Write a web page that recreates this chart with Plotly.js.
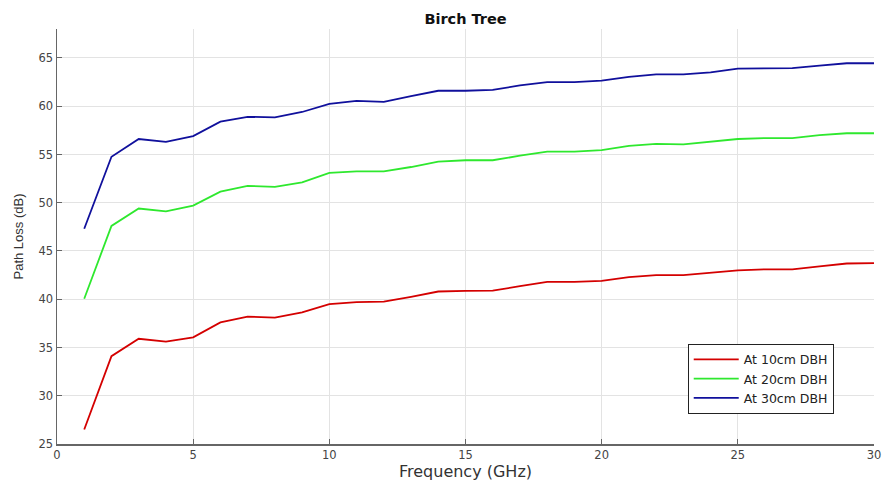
<!DOCTYPE html>
<html>
<head>
<meta charset="utf-8">
<script src="https://cdn.plot.ly/plotly-3.0.1.min.js"></script>
<style>html,body{margin:0;padding:0;background:#fff;}#chart{width:885px;height:483px;}</style>
</head>
<body>
<div id="chart"></div>
<script>
var frequency = [1,2,3,4,5,6,7,8,9,10,11,12,13,14,15,16,17,18,19,20,21,22,23,24,25,26,27,28,29,30];
var loss10 = [26.5,34.1,35.9,35.6,36.05,37.6,38.2,38.1,38.65,39.5,39.7,39.75,40.25,40.8,40.87,40.9,41.35,41.8,41.8,41.9,42.3,42.5,42.5,42.75,43.0,43.1,43.1,43.4,43.7,43.75];
var loss20 = [40.05,47.6,49.4,49.1,49.7,51.15,51.75,51.65,52.1,53.1,53.25,53.25,53.7,54.25,54.4,54.4,54.87,55.3,55.3,55.45,55.9,56.1,56.05,56.3,56.6,56.7,56.7,57.0,57.2,57.2];
var loss30 = [47.3,54.76,56.6,56.3,56.9,58.4,58.9,58.85,59.4,60.25,60.55,60.45,61.05,61.6,61.6,61.7,62.15,62.5,62.5,62.65,63.05,63.3,63.3,63.5,63.9,63.95,63.95,64.2,64.45,64.45];
var seriesNames = ["At 10cm DBH","At 20cm DBH","At 30cm DBH"];
var xTicks = [0,5,10,15,20,25,30];
var yTicks = [25,30,35,40,45,50,55,60,65];

var colors = ["#d40000","#2ee82e","#10109c"];
var data = [loss10, loss20, loss30].map(function(ys, i){
  return {x: frequency, y: ys, type: "scatter", mode: "lines", name: seriesNames[i],
          line: {color: colors[i], width: 1.8}};
});

var wide = "DejaVu Sans, Verdana, sans-serif";
var narrow = "Liberation Sans, Arial, Helvetica, sans-serif";
var layout = {
  width: 885, height: 483,
  margin: {l: 57, r: 11, t: 29, b: 39},
  paper_bgcolor: "#fff", plot_bgcolor: "#fff",
  font: {family: wide, size: 12, color: "#444"},
  title: {text: "<b>Birch Tree</b>", font: {family: wide, size: 14.5, color: "#111"},
          xref: "container", x: 0.526, xanchor: "center", yref: "container", y: 0.961, yanchor: "middle"},
  xaxis: {
    range: [0, 30], tickvals: xTicks, ticktext: xTicks.map(String),
    showgrid: true, gridcolor: "#e3e3e3", gridwidth: 1,
    zeroline: false, showline: true, linecolor: "#666", linewidth: 1.5,
    ticks: "inside", ticklen: 5, tickcolor: "#666",
    tickfont: {family: wide, size: 11.5, color: "#444"},
    title: {text: "Frequency (GHz)", font: {family: wide, size: 16, color: "#333"}, standoff: 2}
  },
  yaxis: {
    range: [25, 68], tickvals: yTicks, ticktext: yTicks.map(String),
    showgrid: true, gridcolor: "#e3e3e3", gridwidth: 1,
    zeroline: false, showline: true, linecolor: "#666", linewidth: 1.5,
    ticks: "inside", ticklen: 5, tickcolor: "#666",
    tickfont: {family: wide, size: 11.5, color: "#444"},
    title: {text: "Path Loss (dB)", font: {family: narrow, size: 13, color: "#333"}, standoff: 12}
  },
  legend: {
    x: 0.772, y: 0.157, xanchor: "left", yanchor: "middle",
    bgcolor: "#fff", bordercolor: "#222", borderwidth: 1,
    font: {family: wide, size: 12.5, color: "#222"},
    itemwidth: 45, tracegroupgap: 0
  },
  showlegend: true
};
Plotly.newPlot("chart", data, layout, {displayModeBar: false, staticPlot: true});
</script>
</body>
</html>
